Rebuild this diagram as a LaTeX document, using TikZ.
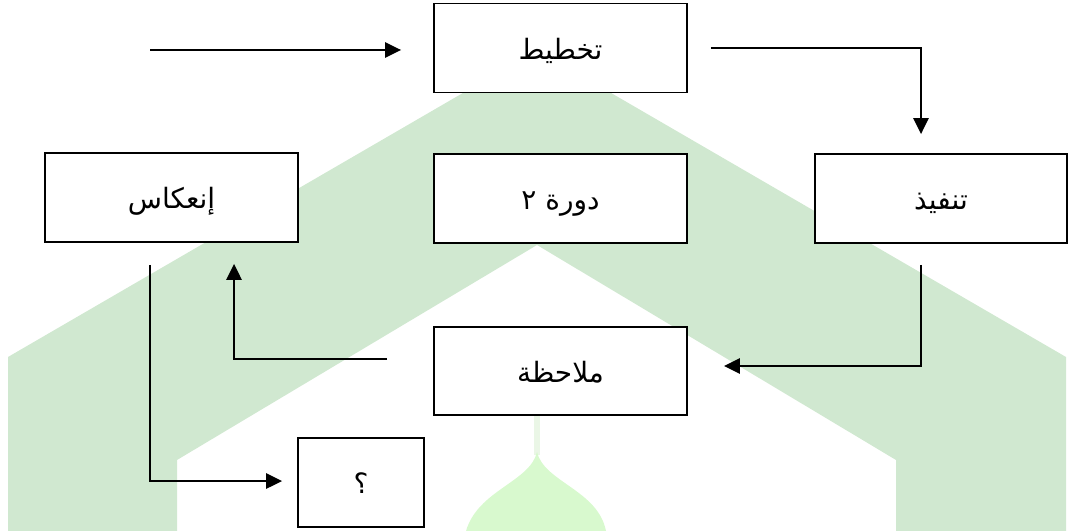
\documentclass[tikz,border=0pt]{standalone}
\usepackage{fontspec}
\newfontfamily\arabicfont[Script=Arabic]{DejaVu Sans}
\TeXXeTstate=1
\usetikzlibrary{arrows.meta}
\definecolor{wmgreen}{RGB}{208,232,208}
\definecolor{wmdome}{RGB}{216,249,206}
\definecolor{wmstem}{RGB}{234,246,230}
\tikzset{
  box/.style={draw=black, line width=1.4pt, fill=white, minimum width=189.75pt, minimum height=66.75pt, inner sep=0pt, text height=17pt, text depth=0pt, font=\arabicfont\fontsize{21pt}{25pt}\selectfont},
  smallbox/.style={box, minimum width=94.5pt},
  arr/.style={draw=black, line width=1.4pt, -{Triangle[length=12pt,width=11.5pt]}},
}
\begin{document}
\begin{tikzpicture}[x=0.75pt,y=-0.75pt]
\useasboundingbox (0,0) rectangle (1068,531);
% watermark
\fill[wmgreen] (8,531) -- (8,357) -- (537,50) -- (1066,357) -- (1066,531) -- (896,531) -- (896,460) -- (537,245) -- (177,460) -- (177,531) -- cycle;
\draw[wmstem, line width=4.5pt] (537,415) -- (537,455);
\fill[wmdome] (466,531) .. controls (478,490) and (530,482) .. (537,452) .. controls (544,482) and (598,490) .. (606,531) -- cycle;
% boxes
\node[box] (T) at (560.5,48) {\beginR تخطيط\endR};
\node[box] (L) at (171.5,197.5) {\beginR إنعكاس\endR};
\node[box] (M) at (560.5,198.5) {\beginR دورة ٢\endR};
\node[box, minimum width=189pt] (R) at (941,198.5) {\beginR تنفيذ\endR};
\node[box, minimum height=66pt] (O) at (560.5,371) {\beginR ملاحظة\endR};
\node[smallbox] (Q) at (361,482.5) {\beginR ؟\endR};
% connectors
\coordinate (S) at (150,50);
\draw[arr, shorten >=24pt] (S) -- ([yshift=-1.5pt]T.west);
\draw[arr, shorten <=17.25pt, shorten >=14.25pt] (T.east) -| ([xshift=-15pt]R.north);
\draw[arr, shorten <=15.75pt, shorten >=27pt] ([xshift=-15pt]R.south) |- ([yshift=3.75pt]O.east);
\draw[arr, shorten <=34.5pt, shorten >=15.75pt] ([yshift=9pt]O.west) -| ([xshift=46.9pt]L.south);
\draw[arr, shorten <=16.5pt, shorten >=11.25pt] ([xshift=-16.1pt]L.south) |- ([yshift=1.1pt]Q.west);
\end{tikzpicture}
\end{document}
